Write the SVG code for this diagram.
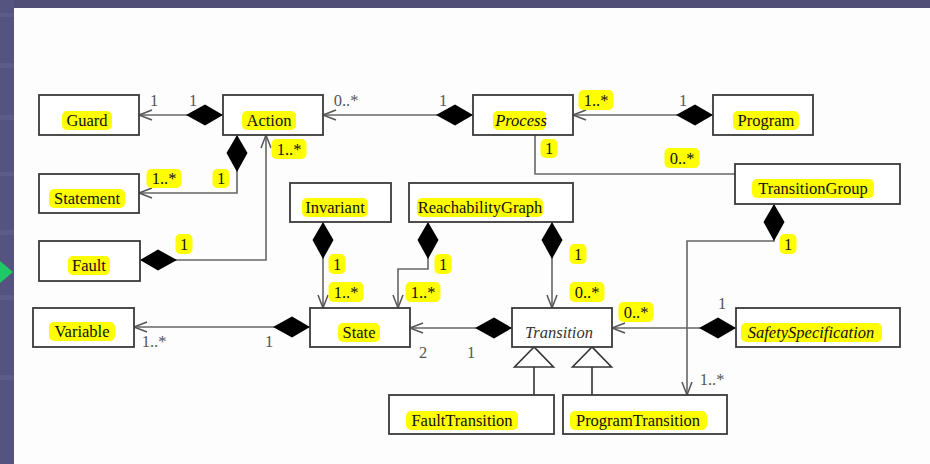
<svg xmlns="http://www.w3.org/2000/svg" width="930" height="464" viewBox="0 0 930 464">
<style>
.box{fill:#fff;stroke:#3a3a3a;stroke-width:1.8}
.hl{fill:#ffff00}
.t{font-family:'Liberation Serif','Times New Roman',serif;font-size:16.5px;fill:#111;text-anchor:middle}
.it{font-style:italic}
.g{fill:#555}
.conn{fill:none;stroke:#666;stroke-width:1.6}
.dm{marker-start:url(#dia)}
.ar{marker-end:url(#arr)}
.gen{fill:none;stroke:#333;stroke-width:1.6;marker-end:url(#tri)}
</style>
<defs>
<marker id="dia" markerUnits="userSpaceOnUse" orient="auto" refX="0" refY="0" markerWidth="40" markerHeight="24" overflow="visible"><path d="M0,0 L18,-10.5 L37,0 L18,10.5 Z" fill="#000"/></marker>
<marker id="arr" markerUnits="userSpaceOnUse" orient="auto" refX="0" refY="0" markerWidth="16" markerHeight="12" overflow="visible"><path d="M-13,-5 L0,0 L-13,5" fill="none" stroke="#555" stroke-width="1.5"/></marker>
<marker id="tri" markerUnits="userSpaceOnUse" orient="auto" refX="0" refY="0" markerWidth="22" markerHeight="42" overflow="visible"><path d="M0,0 L-20,-19.5 L-20,19.5 Z" fill="#fff" stroke="#333" stroke-width="1.6"/></marker>
</defs>
<rect x="0" y="0" width="930" height="464" fill="#fdfdfd"/>
<rect x="0" y="0" width="930" height="8" fill="#514f78"/>
<rect x="0" y="0" width="14" height="464" fill="#55537f"/>
<g fill="#65638f" opacity="0.5">
<rect x="0" y="13" width="14" height="4"/><rect x="0" y="63" width="14" height="5"/><rect x="0" y="115" width="14" height="5"/><rect x="0" y="172" width="14" height="4"/><rect x="0" y="230" width="14" height="5"/><rect x="0" y="295" width="14" height="5"/><rect x="0" y="375" width="14" height="5"/>
</g>
<polygon points="0,261 13,272 0,283" fill="#1ec864"/>

<g id="connectors">
<path class="conn dm ar" d="M223,115 H139"/>
<path class="conn dm ar" d="M237,135 V193 H139"/>
<path class="conn dm ar" d="M140,260 H266 V135"/>
<path class="conn dm ar" d="M473,115 H323"/>
<path class="conn dm ar" d="M713,115 H573"/>
<path class="conn" d="M535,135 V174 H735"/>
<path class="conn dm ar" d="M774,204 V241 H687 V395"/>
<path class="conn dm ar" d="M736,328 H612"/>
<path class="conn dm ar" d="M512,328 H410"/>
<path class="conn dm ar" d="M310,327 H134"/>
<path class="conn dm ar" d="M323,222 V308"/>
<path class="conn dm ar" d="M428,222 V269 H398 V308"/>
<path class="conn dm ar" d="M552,222 V308"/>
<path class="gen" d="M534,395 V347"/>
<path class="gen" d="M592,395 V347"/>
<text class="t g" x="154" y="106">1</text>
<text class="t g" x="193" y="106">1</text>
<text class="t g" x="346" y="106">0..*</text>
<text class="t g" x="443" y="106">1</text>
<text class="t g" x="683" y="106">1</text>
<text class="t g" x="154" y="347">1..*</text>
<text class="t g" x="269" y="347">1</text>
<text class="t g" x="423" y="358">2</text>
<text class="t g" x="471" y="358">1</text>
<text class="t g" x="722" y="309">1</text>
<text class="t g" x="712" y="385">1..*</text>
<rect class="hl" x="146.5" y="169" width="35" height="19" rx="5"/><text class="t" x="164" y="184">1..*</text>
<rect class="hl" x="212.5" y="169" width="17" height="19" rx="5"/><text class="t" x="221" y="184">1</text>
<rect class="hl" x="271.5" y="139" width="35" height="20" rx="5"/><text class="t" x="289" y="155">1..*</text>
<rect class="hl" x="175.5" y="234" width="17" height="20" rx="5"/><text class="t" x="184" y="250">1</text>
<rect class="hl" x="578.5" y="90" width="35" height="20" rx="5"/><text class="t" x="596" y="106">1..*</text>
<rect class="hl" x="540.5" y="139" width="17" height="19" rx="5"/><text class="t" x="549" y="154">1</text>
<rect class="hl" x="664.5" y="148" width="35" height="20" rx="5"/><text class="t" x="682" y="164">0..*</text>
<rect class="hl" x="779.5" y="234" width="17" height="20" rx="5"/><text class="t" x="788" y="250">1</text>
<rect class="hl" x="618.5" y="302" width="35" height="20" rx="5"/><text class="t" x="636" y="318">0..*</text>
<rect class="hl" x="328.5" y="254" width="17" height="20" rx="5"/><text class="t" x="337" y="270">1</text>
<rect class="hl" x="328.5" y="282" width="35" height="20" rx="5"/><text class="t" x="346" y="298">1..*</text>
<rect class="hl" x="434.5" y="254" width="17" height="20" rx="5"/><text class="t" x="443" y="270">1</text>
<rect class="hl" x="405.5" y="282" width="35" height="20" rx="5"/><text class="t" x="423" y="298">1..*</text>
<rect class="hl" x="569.5" y="244" width="17" height="20" rx="5"/><text class="t" x="578" y="260">1</text>
<rect class="hl" x="569.5" y="282" width="35" height="20" rx="5"/><text class="t" x="587" y="298">0..*</text>
</g>

<g id="guard"><rect class="box" x="39" y="95" width="100" height="40"/><rect class="hl" x="62" y="111" width="50" height="19" rx="5"/><text class="t" x="87" y="126">Guard</text></g>
<g id="action"><rect class="box" x="223" y="95" width="100" height="40"/><rect class="hl" x="242" y="111" width="54" height="19" rx="5"/><text class="t" x="269" y="126">Action</text></g>
<g id="process"><rect class="box" x="473" y="95" width="100" height="40"/><rect class="hl" x="493" y="111" width="53" height="19" rx="5"/><text class="t it" x="521" y="126">Process</text></g>
<g id="program"><rect class="box" x="713" y="95" width="100" height="40"/><rect class="hl" x="733" y="111" width="66" height="19" rx="5"/><text class="t" x="766" y="126">Program</text></g>
<g id="transitiongroup"><rect class="box" x="735" y="164" width="165" height="40"/><rect class="hl" x="752" y="179" width="122" height="19" rx="5"/><text class="t" x="813" y="194">TransitionGroup</text></g>
<g id="statement"><rect class="box" x="39" y="174" width="100" height="39"/><rect class="hl" x="49" y="189" width="76" height="19" rx="5"/><text class="t" x="87" y="204">Statement</text></g>
<g id="fault"><rect class="box" x="39" y="241" width="101" height="40"/><rect class="hl" x="68" y="256" width="42" height="19" rx="5"/><text class="t" x="89" y="271">Fault</text></g>
<g id="invariant"><rect class="box" x="290" y="183" width="101" height="39"/><rect class="hl" x="302" y="198" width="66" height="19" rx="5"/><text class="t" x="335" y="213">Invariant</text></g>
<g id="reachabilitygraph"><rect class="box" x="409" y="183" width="164" height="39"/><rect class="hl" x="417" y="198" width="126" height="19" rx="5"/><text class="t" x="480" y="213">ReachabilityGraph</text></g>
<g id="variable"><rect class="box" x="33" y="308" width="101" height="39"/><rect class="hl" x="49" y="322" width="66" height="19" rx="5"/><text class="t" x="82" y="337">Variable</text></g>
<g id="state"><rect class="box" x="310" y="308" width="100" height="39"/><rect class="hl" x="338" y="323" width="42" height="19" rx="5"/><text class="t" x="359" y="338">State</text></g>
<g id="transition"><rect class="box" x="512" y="308" width="100" height="39"/><text class="t it" x="559" y="338" style="fill:#333">Transition</text></g>
<g id="safetyspecification"><rect class="box" x="736" y="308" width="164" height="39"/><rect class="hl" x="741" y="323" width="141" height="19" rx="5"/><text class="t it" x="811" y="338">SafetySpecification</text></g>
<g id="faulttransition"><rect class="box" x="389" y="395" width="165" height="39"/><rect class="hl" x="406" y="411" width="112" height="19" rx="5"/><text class="t" x="462" y="426">FaultTransition</text></g>
<g id="programtransition"><rect class="box" x="563" y="395" width="164" height="39"/><rect class="hl" x="570" y="411" width="137" height="19" rx="5"/><text class="t" x="638" y="426">ProgramTransition</text></g>
</svg>
